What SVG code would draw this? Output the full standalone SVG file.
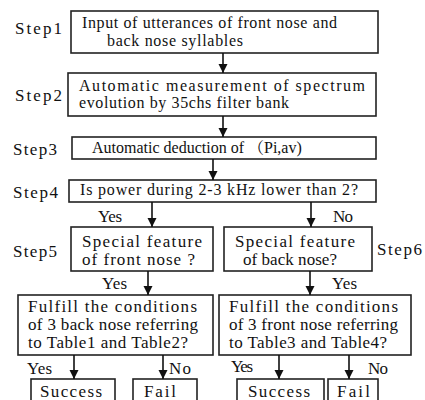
<svg xmlns="http://www.w3.org/2000/svg" width="425" height="400" viewBox="0 0 425 400">
<defs>
<marker id="ah" markerUnits="userSpaceOnUse" markerWidth="10" markerHeight="10" refX="9" refY="4.5" orient="auto">
<path d="M0,0 L9,4.5 L0,9 z" fill="#111"/>
</marker>
<style>
.b{fill:#fff;stroke:#222;stroke-width:1.6}
text{font-family:'Liberation Serif','Times New Roman','DejaVu Serif','Noto Serif','Noto Serif CJK JP',Times,serif;fill:#111}
.t{font-size:16px}
.s{font-size:17px}
.cjk{font-family:'Noto Serif CJK JP','Noto Sans CJK JP',serif}
.c{stroke:#111;stroke-width:1.6;fill:none;marker-end:url(#ah)}
</style>
</defs>
<rect width="425" height="400" fill="#fff"/>
<g id="labels">
<text class="s" x="15" y="34" textLength="47">Step1</text>
<text class="s" x="15" y="101" textLength="47">Step2</text>
<text class="s" x="13" y="155" textLength="44">Step3</text>
<text class="s" x="13" y="198" textLength="45">Step4</text>
<text class="s" x="13" y="257" textLength="44">Step5</text>
<text class="s" x="377" y="255" textLength="45">Step6</text>
<text class="s" x="98" y="222" textLength="24">Yes</text>
<text class="s" x="333" y="222" textLength="20">No</text>
<text class="s" x="102" y="289" textLength="25">Yes</text>
<text class="s" x="332" y="289" textLength="25">Yes</text>
<text class="s" x="27" y="374" textLength="25">Yes</text>
<text class="s" x="169" y="374" textLength="22">No</text>
<text class="s" x="231" y="372" textLength="22">Yes</text>
<text class="s" x="368" y="374" textLength="20">No</text>
</g>
<g id="step1">
<rect class="b" x="71" y="11" width="307" height="42"/>
<text class="t" x="82" y="28" textLength="255">Input of utterances of front nose and</text>
<text class="t" x="107" y="46" textLength="136">back nose syllables</text>
</g>
<g id="step2">
<rect class="b" x="68" y="73" width="308" height="43"/>
<text class="t" x="79" y="91" textLength="286">Automatic measurement of spectrum</text>
<text class="t" x="79" y="108" textLength="210">evolution by 35chs filter bank</text>
</g>
<g id="step3">
<rect class="b" x="72" y="137" width="304" height="22"/>
<text class="t" x="92" y="153">Automatic deduction of <tspan class="cjk">（</tspan>Pi,av)</text>
</g>
<g id="step4">
<rect class="b" x="69" y="180" width="307" height="22"/>
<text class="t" x="80" y="195" textLength="278">Is power during 2-3 kHz lower than 2?</text>
</g>
<g id="step5">
<rect class="b" x="71" y="227" width="142" height="44"/>
<text class="s" x="82" y="247" textLength="120">Special feature</text>
<text class="s" x="82" y="265" textLength="113">of front nose ?</text>
</g>
<g id="step6">
<rect class="b" x="224" y="227" width="148" height="44"/>
<text class="s" x="235" y="247" textLength="120">Special feature</text>
<text class="s" x="243" y="265" textLength="94">of back nose?</text>
</g>
<g id="check-left">
<rect class="b" x="18" y="295" width="195" height="60"/>
<text class="s" x="28" y="312" textLength="169">Fulfill the conditions</text>
<text class="s" x="28" y="330" textLength="170">of 3 back nose referring</text>
<text class="s" x="28" y="348" textLength="160">to Table1 and Table2?</text>
</g>
<g id="check-right">
<rect class="b" x="219" y="295" width="192" height="60"/>
<text class="s" x="229" y="312" textLength="169">Fulfill the conditions</text>
<text class="s" x="229" y="330" textLength="169">of 3 front nose referring</text>
<text class="s" x="229" y="348" textLength="158">to Table3 and Table4?</text>
</g>
<g id="success-left">
<rect class="b" x="31" y="379" width="84" height="25"/>
<text class="s" x="40" y="397" textLength="62">Success</text>
</g>
<g id="fail-left">
<rect class="b" x="133" y="379" width="64" height="25"/>
<text class="s" x="144" y="397" textLength="32">Fail</text>
</g>
<g id="success-right">
<rect class="b" x="237" y="379" width="87" height="25"/>
<text class="s" x="248" y="397" textLength="62">Success</text>
</g>
<g id="fail-right">
<rect class="b" x="328" y="379" width="50" height="25"/>
<text class="s" x="337" y="397" textLength="33">Fail</text>
</g>
<g id="connectors">
<line class="c" x1="223" y1="53" x2="223" y2="73"/>
<line class="c" x1="223" y1="116" x2="223" y2="137"/>
<line class="c" x1="213" y1="159" x2="213" y2="180"/>
<line class="c" x1="152" y1="202" x2="152" y2="227"/>
<line class="c" x1="311" y1="202" x2="311" y2="227"/>
<line class="c" x1="148" y1="271" x2="148" y2="295"/>
<line class="c" x1="310" y1="271" x2="310" y2="295"/>
<line class="c" x1="74" y1="355" x2="74" y2="379"/>
<line class="c" x1="163" y1="355" x2="163" y2="379"/>
<line class="c" x1="279" y1="355" x2="279" y2="379"/>
<line class="c" x1="349" y1="355" x2="349" y2="379"/>
</g>
</svg>
